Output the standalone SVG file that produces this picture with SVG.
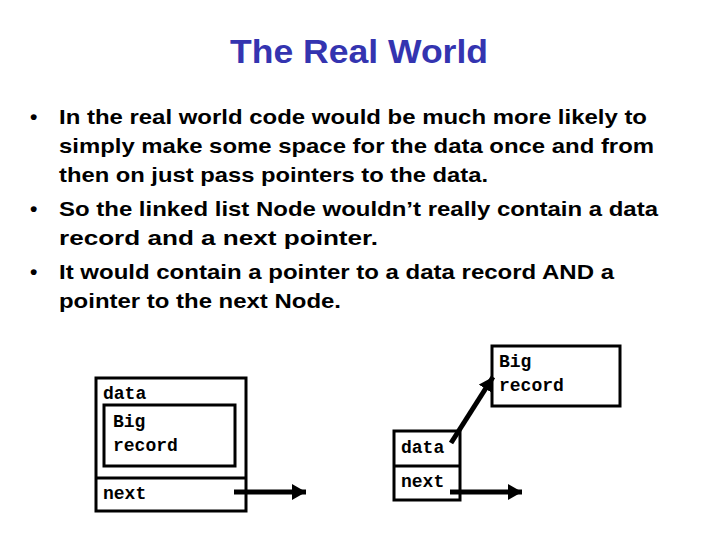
<svg xmlns="http://www.w3.org/2000/svg" width="720" height="540" viewBox="0 0 720 540">
<style>
.title{font-family:"Liberation Sans",Arial,sans-serif;font-weight:bold;font-size:34px;fill:#3434B0}
.body{font-family:"Liberation Sans",Arial,sans-serif;font-weight:bold;font-size:21px;fill:#000}
.mono{font-family:"Liberation Mono","Courier New",monospace;font-weight:bold;font-size:18px;fill:#000}
.box{fill:none;stroke:#000;stroke-width:3}
.ptr{stroke:#000;stroke-width:5;fill:none}
</style>
<defs>
<marker id="ah" markerUnits="userSpaceOnUse" markerWidth="16" markerHeight="16" refX="14" refY="8" orient="auto">
<path d="M0,0 L14,8 L0,16 Z" fill="#000"/>
</marker>
</defs>
<rect width="720" height="540" fill="#fff"/>
<text class="title" x="359" y="63" text-anchor="middle" textLength="258" lengthAdjust="spacingAndGlyphs">The Real World</text>
<g id="bullets">
<text class="body" x="30" y="124">•</text>
<text class="body" x="59" y="124" textLength="588" lengthAdjust="spacingAndGlyphs">In the real world code would be much more likely to</text>
<text class="body" x="59" y="153" textLength="595" lengthAdjust="spacingAndGlyphs">simply make some space for the data once and from</text>
<text class="body" x="59" y="182" textLength="429" lengthAdjust="spacingAndGlyphs">then on just pass pointers to the data.</text>
<text class="body" x="30" y="216">•</text>
<text class="body" x="59" y="216" textLength="599" lengthAdjust="spacingAndGlyphs">So the linked list Node wouldn’t really contain a data</text>
<text class="body" x="59" y="245" textLength="319" lengthAdjust="spacingAndGlyphs">record and a next pointer.</text>
<text class="body" x="30" y="279">•</text>
<text class="body" x="59" y="279" textLength="555" lengthAdjust="spacingAndGlyphs">It would contain a pointer to a data record AND a</text>
<text class="body" x="59" y="308" textLength="282" lengthAdjust="spacingAndGlyphs">pointer to the next Node.</text>
</g>
<g id="node1">
<rect class="box" x="96" y="378" width="150" height="133"/>
<line class="box" x1="96" y1="478" x2="246" y2="478"/>
<text class="mono" x="103" y="399">data</text>
<text class="mono" x="103" y="499">next</text>
</g>
<g id="record1">
<rect class="box" x="104" y="405" width="131" height="61"/>
<text class="mono" x="113" y="427">Big</text>
<text class="mono" x="113" y="451">record</text>
</g>
<g id="node2">
<rect class="box" x="394" y="431" width="66" height="69"/>
<line class="box" x1="394" y1="466" x2="460" y2="466"/>
<text class="mono" x="401" y="453">data</text>
<text class="mono" x="401" y="487">next</text>
</g>
<g id="record2">
<rect class="box" x="492" y="346" width="128" height="60"/>
<text class="mono" x="499" y="367">Big</text>
<text class="mono" x="499" y="391">record</text>
</g>
<g id="connectors">
<line class="ptr" x1="234" y1="492" x2="306" y2="492" marker-end="url(#ah)"/>
<line class="ptr" x1="451" y1="443" x2="493" y2="377" marker-end="url(#ah)"/>
<line class="ptr" x1="450" y1="492" x2="522" y2="492" marker-end="url(#ah)"/>
</g>
</svg>
